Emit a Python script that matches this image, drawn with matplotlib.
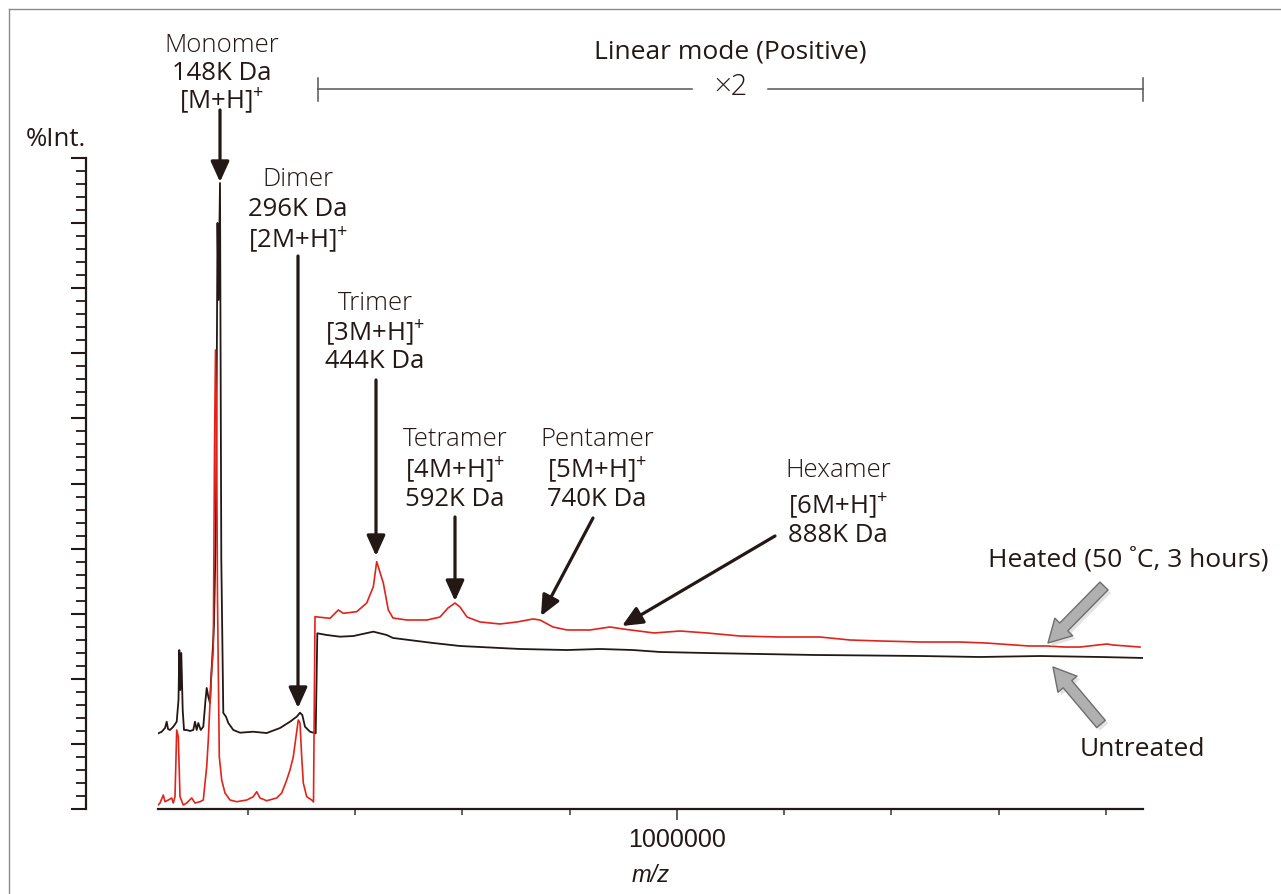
import matplotlib
matplotlib.use('Agg')
import matplotlib.pyplot as plt
from matplotlib.lines import Line2D
from matplotlib.patches import FancyArrowPatch
from matplotlib.ticker import FixedLocator, NullFormatter, FixedFormatter

# ── Data ───────────────────────────────────────────────────────────────

untreated_mz = [32760, 39100, 45250, 48420, 50850, 54580, 60730, 67070, 70430, 71920,
                73790, 75650, 78260, 80690, 85720, 91870, 98030, 101200, 104370, 107350,
                111830, 116680, 120780, 123020, 126000, 129170, 131030, 134200, 136630, 140360,
                143160, 145020, 147820, 150240, 153970, 159010, 163300, 172620, 185110, 209360,
                234900, 259710, 278350, 290850, 297000, 301290, 306330, 315650, 326280, 329260,
                346790, 371590, 396400, 433690, 458680, 470430, 545020, 595370, 669960, 707260,
                794900, 856440, 917980, 968330, 1055980, 1154810, 1255510, 1359940, 1455040, 1565070,
                1676950, 1788840, 1869030]
untreated_int = [11.63, 11.87, 12.44, 13.41, 12.29, 12.14, 12.64, 13.41, 16.74, 24.42,
                 18.28, 23.96, 15.21, 12.14, 12.14, 11.98, 12.14, 13.41, 12.14, 13.21,
                 12.14, 12.64, 16.74, 18.59, 17.25, 16.28, 19.82, 24.42, 28.26, 44.39,
                 90.02, 78.19, 96.16, 38.25, 14.75, 14.18, 13.21, 12.14, 11.72, 11.87,
                 11.67, 12.44, 13.41, 14.18, 14.79, 14.44, 12.64, 11.87, 11.63, 26.99,
                 26.73, 26.47, 26.57, 27.24, 26.73, 26.27, 25.50, 25.04, 24.73, 24.58,
                 24.42, 24.58, 24.42, 24.12, 23.96, 23.81, 23.66, 23.58, 23.50, 23.35,
                 23.50, 23.35, 23.20]

heated_mz = [32200, 35930, 42080, 45250, 51410, 57750, 60730, 63900, 67070, 70060,
             73230, 79380, 85720, 95040, 101200, 110520, 116680, 119850, 123020, 126000,
             129170, 132340, 135320, 137560, 139430, 141290, 143160, 146510, 150990, 157140,
             166470, 178960, 197610, 209920, 216260, 222410, 234900, 253550, 262880, 272200,
             278350, 284510, 289540, 293830, 297000, 300170, 303160, 309500, 318820, 322180,
             324970, 352950, 368420, 377750, 402740, 421380, 433690, 440030, 452340, 461660,
             470430, 496540, 533830, 558070, 572990, 586050, 595370, 608420, 632670, 669960,
             701660, 731500, 744550, 768800, 794900, 837790, 875090, 899330, 957140, 1005630,
             1055980, 1117510, 1190240, 1266700, 1322640, 1378590, 1455040, 1527770, 1576250, 1602360,
             1656440, 1690010, 1721710, 1751550, 1801900, 1813080, 1863430]
heated_int = [0.61, 0.92, 2.15, 1.12, 1.38, 1.69, 0.92, 1.89, 12.14, 11.11,
              1.89, 0.61, 0.92, 1.69, 0.92, 1.12, 1.38, 3.99, 6.50, 10.60,
              16.28, 21.35, 24.42, 55.15, 70.51, 59.75, 32.10, 8.03, 4.45, 2.46,
              1.38, 1.12, 1.38, 1.89, 2.66, 1.69, 1.27, 1.69, 2.46, 4.45,
              5.99, 8.03, 11.11, 13.67, 13.21, 8.03, 3.99, 1.89, 1.38, 1.08,
              29.54, 29.29, 30.57, 30.06, 30.31, 31.64, 34.15, 37.99, 34.72, 30.57,
              29.34, 29.03, 29.03, 29.49, 30.88, 31.64, 31.03, 29.49, 28.73, 28.42,
              28.73, 29.19, 29.03, 27.96, 27.50, 27.50, 27.96, 27.65, 27.04, 27.34,
              27.04, 26.57, 26.42, 26.42, 25.96, 25.81, 25.65, 25.65, 25.50, 25.35,
              25.04, 25.04, 24.88, 24.88, 25.35, 25.19, 24.88]

XMIN, XMAX = 32200, 1869000
x_minor = [200000, 400000, 600000, 800000, 1200000, 1400000, 1600000, 1800000]
x_major = [1000000]
x_labels = ['1000000']

BLACK = '#231815'
RED = '#e2231a'
FONT = 'Open Sans'

plt.rcParams['font.family'] = [FONT, 'DejaVu Sans']
plt.rcParams['mathtext.fontset'] = 'custom'
plt.rcParams['mathtext.rm'] = FONT
plt.rcParams['mathtext.it'] = FONT + ':italic'

W, H = 1281, 894
fig = plt.figure(figsize=(W / 100, H / 100), dpi=100)


def P(x, y):
    """pixel position -> figure fraction"""
    return (x / W, 1 - y / H)


ax = fig.add_axes([158 / W, 1 - 809 / H, 985 / W, 651 / H])
ax.plot(untreated_mz, untreated_int, color=BLACK, lw=1.3, zorder=3)
ax.plot(heated_mz, heated_int, color=RED, lw=1.2, zorder=4)

ax.set_xlim(XMIN, XMAX)
ax.set_ylim(0, 100)

for s in ['top', 'right']:
    ax.spines[s].set_visible(False)
ax.spines['left'].set_position(('outward', 72 * 0.72))
ax.spines['left'].set_linewidth(1.6)
ax.spines['left'].set_color(BLACK)
ax.spines['bottom'].set_linewidth(1.6)
ax.spines['bottom'].set_color(BLACK)

ax.xaxis.set_major_locator(FixedLocator(x_major))
ax.xaxis.set_major_formatter(FixedFormatter(x_labels))
ax.xaxis.set_minor_locator(FixedLocator(x_minor))
ax.tick_params(axis='x', which='major', length=8, width=1.2, color='#444444', pad=6)
ax.tick_params(axis='x', which='minor', length=4.5, width=1.2, color='#444444')
for lab in ax.get_xticklabels():
    lab.set_family(['Liberation Sans', 'DejaVu Sans'])
    lab.set_fontsize(18)
    lab.set_color(BLACK)

ax.set_yticks(range(0, 101, 10))
ax.set_yticks(range(0, 101, 2), minor=True)
ax.yaxis.set_major_formatter(NullFormatter())
ax.tick_params(axis='y', which='major', length=11, width=1.5, color=BLACK)
ax.tick_params(axis='y', which='minor', length=7, width=1.3, color=BLACK)

# axis titles
fig.text(*P(651, 876), 'm/z', ha='center', va='center', fontsize=17, style='italic',
         family=['Liberation Sans', 'DejaVu Sans'], color=BLACK)
fig.text(*P(56, 140), '%Int.', ha='center', va='center', fontsize=18.5, color=BLACK)

# ── Peak labels ────────────────────────────────────────────────────────

LBL = 18.5
labels = [
    # (x, [(y, text, weight)])
    (222, [(46, 'Monomer', 'light'), (74, '148K Da', 'medium'), (101, '[M+H]$^{+}$', 'normal')]),
    (298, [(180, 'Dimer', 'light'), (210, '296K Da', 'medium'), (240, '[2M+H]$^{+}$', 'normal')]),
    (375, [(304, 'Trimer', 'light'), (333, '[3M+H]$^{+}$', 'normal'), (362, '444K Da', 'medium')]),
    (455, [(439, 'Tetramer', 'light'), (470, '[4M+H]$^{+}$', 'normal'), (500, '592K Da', 'medium')]),
    (597, [(439, 'Pentamer', 'light'), (470, '[5M+H]$^{+}$', 'normal'), (500, '740K Da', 'medium')]),
    (838, [(470, 'Hexamer', 'light'), (506, '[6M+H]$^{+}$', 'normal'), (535, '888K Da', 'normal')]),
]
for x, lines in labels:
    for y, t, w in lines:
        fig.text(*P(x, y), t, ha='center', va='center', fontsize=LBL, fontweight=w,
                 color=BLACK)

arrows = [((220, 110), (220, 182)), ((298, 256), (298, 708)), ((376, 380), (376, 556)),
          ((455, 517), (455, 601)), ((593, 518), (541, 616)), ((775, 536), (622, 626))]
for tail, tip in arrows:
    fig.add_artist(FancyArrowPatch(
        P(*tail), P(*tip), transform=fig.transFigure,
        arrowstyle='-|>,head_length=0.62,head_width=0.28', mutation_scale=20,
        lw=2.3, color=BLACK, shrinkA=0, shrinkB=0))

# ── Linear mode bracket ────────────────────────────────────────────────

fig.text(*P(730, 52), 'Linear mode (Positive)', ha='center', va='center', fontsize=19,
         fontweight='medium', color=BLACK)
fig.text(*P(731, 87), '×2', ha='center', va='center', fontsize=21, fontweight='light',
         color=BLACK)
for xa, xb in [(318, 692), (768, 1143)]:
    fig.add_artist(Line2D([P(xa, 89)[0], P(xb, 89)[0]], [P(xa, 89)[1]] * 2,
                          transform=fig.transFigure, color='#555555', lw=1.1))
for xv in [318, 1143]:
    fig.add_artist(Line2D([P(xv, 78)[0]] * 2, [P(xv, 78)[1], P(xv, 101)[1]],
                          transform=fig.transFigure, color='#555555', lw=1.1))

# ── Sample labels with grey arrows ─────────────────────────────────────

fig.text(*P(988, 560), 'Heated (50 ˚C, 3 hours)', ha='left', va='center', fontsize=19,
         fontweight='medium', color=BLACK)
fig.text(*P(1142, 750), 'Untreated', ha='center', va='center', fontsize=19,
         fontweight='medium', color=BLACK)

for tail, tip in [((1104, 586), (1048, 643)), ((1101, 724), (1053, 667))]:
    fig.add_artist(FancyArrowPatch(
        P(tail[0] + 3, tail[1] + 3), P(tip[0] + 3, tip[1] + 3), transform=fig.transFigure,
        arrowstyle='simple,head_length=0.9,head_width=1.0,tail_width=0.45',
        mutation_scale=18, facecolor='#d8d8d8', edgecolor='none', alpha=0.7,
        shrinkA=0, shrinkB=0, zorder=4))
    fig.add_artist(FancyArrowPatch(
        P(*tail), P(*tip), transform=fig.transFigure,
        arrowstyle='simple,head_length=0.9,head_width=1.0,tail_width=0.45',
        mutation_scale=18, facecolor='#b0b0b0', edgecolor='#6e6e6e', lw=1.0,
        shrinkA=0, shrinkB=0, zorder=5))

# frame (top and left only)
fig.add_artist(Line2D([P(9, 9)[0], 1], [P(9, 9)[1]] * 2, transform=fig.transFigure,
                      color='#8a8a8a', lw=1.0))
fig.add_artist(Line2D([P(9, 9)[0]] * 2, [P(9, 9)[1], 0], transform=fig.transFigure,
                      color='#8a8a8a', lw=1.0))

fig.savefig('out.png', dpi=100)
